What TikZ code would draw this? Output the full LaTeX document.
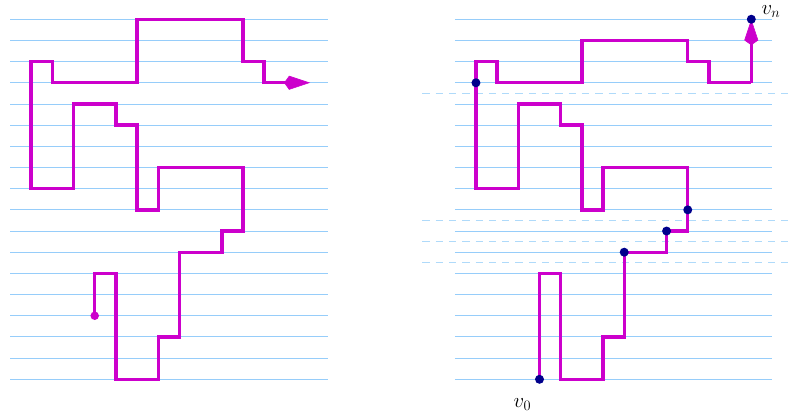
\documentclass[tikz,border=0pt]{standalone}
\usetikzlibrary{arrows.meta}
\definecolor{gridblue}{RGB}{150,205,250}
\definecolor{cutblue}{RGB}{175,218,250}
\definecolor{walk}{RGB}{204,0,204}
\definecolor{dotblue}{RGB}{0,0,140}
\tikzset{
 gridline/.style={gridblue, line width=0.9pt},
 cutline/.style={cutblue, line width=1pt, dash pattern=on 7.3pt off 6pt},
 walkpath/.style={walk, line width=3.4pt, line join=miter},
 walktip/.style={-{Kite[length=26pt,width=14pt,inset=5pt,line width=0.6pt]}},
 vdot/.style={circle, fill=dotblue, inner sep=0pt, minimum size=9pt},
 sdot/.style={circle, fill=walk, inner sep=0pt, minimum size=8.5pt},
 lab/.style={font=\fontsize{20.74}{24}\selectfont, inner sep=0pt}
}
\begin{document}
\begin{tikzpicture}[x=21.18pt,y=21.18pt]
\useasboundingbox (-10pt,-34.7pt) rectangle (778pt,379.3pt);
% grids
\foreach \r in {0,...,17} {
  \draw[gridline] (0,\r) -- (15,\r);
  \draw[gridline] (21,\r) -- (36,\r);
}
\foreach \r in {5.5,6.5,7.5,13.5} \draw[cutline] (19.47,\r) -- (37,\r);
% left walk
\coordinate (Ls) at (4,3);
\coordinate (Le) at (14.17,14);
\draw[walkpath,walktip] (Ls) -- (4,5) -- (5,5) -- (5,0) -- (7,0) -- (7,2) -- (8,2) -- (8,6) -- (10,6) -- (10,7) -- (11,7) -- (11,10) -- (7,10) -- (7,8) -- (6,8) -- (6,12) -- (5,12) -- (5,13) -- (3,13) -- (3,9) -- (1,9) -- (1,15) -- (2,15) -- (2,14) -- (6,14) -- (6,17) -- (11,17) -- (11,15) -- (12,15) -- (12,14) -- (Le);
\node[sdot] (start) at (Ls) {};
% right walk
\begin{scope}[shift={(21,0)}]
\coordinate (v0) at (4,0);
\coordinate (a) at (8,6);
\coordinate (b) at (10,7);
\coordinate (c) at (11,8);
\coordinate (d) at (1,14);
\coordinate (vn) at (14,17);
\draw[walkpath] (v0) -- (4,5) -- (5,5) -- (5,0) -- (7,0) -- (7,2) -- (8,2) -- (a) -- (10,6) -- (b) -- (11,7) -- (c) -- (11,10) -- (7,10) -- (7,8) -- (6,8) -- (6,12) -- (5,12) -- (5,13) -- (3,13) -- (3,9) -- (1,9) -- (d) -- (1,15) -- (2,15) -- (2,14) -- (6,14) -- (6,16) -- (11,16) -- (11,15) -- (12,15) -- (12,14) -- (14,14) coordinate (pre);
\draw[walkpath,walktip] (pre) -- (vn);
\foreach \p in {v0,a,b,c,d,vn} \node[vdot] (dot-\p) at (\p) {};
\node[lab, anchor=base west] (lvn) at ([xshift=10pt,yshift=5pt]vn) {$v_n$};
\node[lab, anchor=base west] (lv0) at ([xshift=-26pt,yshift=-28.4pt]v0) {$v_0$};
\end{scope}
\end{tikzpicture}
\end{document}
